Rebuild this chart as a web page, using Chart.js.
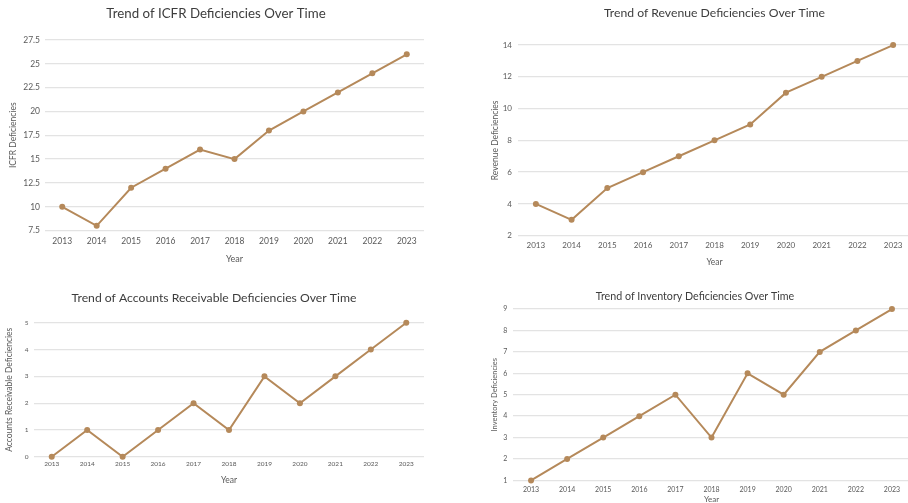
<!DOCTYPE html>
<html>
<head>
<meta charset="utf-8">
<title>Deficiency Trends 2013–2023</title>
<script src="https://cdn.jsdelivr.net/npm/chart.js@4/dist/chart.umd.min.js"></script>
<style>
  html, body { margin: 0; padding: 0; background: #ffffff; overflow: hidden; }
  body { width: 908px; height: 503px; position: relative; }
  canvas { position: absolute; display: block; }
</style>
</head>
<body>
<canvas id="icfr" width="432" height="267" style="left:0px;top:0px"></canvas>
<canvas id="revenue" width="440" height="270" style="left:485px;top:0px"></canvas>
<canvas id="receivable" width="434" height="206" style="left:0px;top:282px"></canvas>
<canvas id="inventory" width="445" height="221" style="left:480px;top:282px"></canvas>
<script>
// Years on the x axis, shared by all four panels
const years = ['2013', '2014', '2015', '2016', '2017', '2018', '2019', '2020', '2021', '2022', '2023'];

// Number of deficiencies reported each year
const icfrValues = [10, 8, 12, 14, 16, 15, 18, 20, 22, 24, 26];
const revenueValues = [4, 3, 5, 6, 7, 8, 9, 11, 12, 13, 14];
const receivableValues = [0, 1, 0, 1, 2, 1, 3, 2, 3, 4, 5];
const inventoryValues = [1, 2, 3, 4, 5, 3, 6, 5, 7, 8, 9];

// Panel titles and y-axis titles
const panelTitles = [
  'Trend of ICFR Deficiencies Over Time',
  'Trend of Revenue Deficiencies Over Time',
  'Trend of Accounts Receivable Deficiencies Over Time',
  'Trend of Inventory Deficiencies Over Time'
];
const yTitles = [
  'ICFR Deficiencies',
  'Revenue Deficiencies',
  'Accounts Receivable Deficiencies',
  'Inventory Deficiencies'
];
const xTitle = 'Year';

// y-axis ranges: [min, max, step]
const yRanges = [
  [7.5, 27.5, 2.5],
  [2, 14, 2],
  [0, 5, 1],
  [1, 9, 1]
];

const FONT = 'Lato, "Open Sans", sans-serif';
const LINE = '#b5895a';
const GRID = '#e3e3e3';
const TITLE_COLOR = '#3d3d3d';
const TEXT_COLOR = '#5a5a5a';

function drawPanel(id, values, idx, s) {
  const [ymin, ymax, ystep] = yRanges[idx];
  new Chart(document.getElementById(id), {
    type: 'line',
    data: {
      labels: years,
      datasets: [{
        data: values,
        borderColor: LINE,
        backgroundColor: LINE,
        pointBackgroundColor: LINE,
        pointBorderColor: LINE,
        borderWidth: 2,
        pointRadius: 3,
        pointBorderWidth: 0,
        tension: 0,
        fill: false,
        clip: false
      }]
    },
    options: {
      responsive: false,
      animation: false,
      devicePixelRatio: 1,
      layout: { padding: { left: s.padL, right: s.padR, top: 0, bottom: 0 } },
      plugins: {
        legend: { display: false },
        tooltip: { enabled: false },
        title: {
          display: true,
          text: panelTitles[idx],
          color: TITLE_COLOR,
          fullSize: s.fullSize,
          font: { family: FONT, size: s.titleSize, weight: 'normal' },
          padding: { top: s.titleTop, bottom: s.titleBottom }
        }
      },
      scales: {
        x: {
          offset: true,
          grid: { display: false, drawTicks: false },
          border: { display: false },
          ticks: {
            color: TEXT_COLOR,
            font: { family: FONT, size: s.tickSize },
            padding: s.xTickPad,
            maxRotation: 0,
            autoSkip: false
          },
          title: {
            display: true,
            text: xTitle,
            color: TEXT_COLOR,
            font: { family: FONT, size: s.xTitleSize },
            padding: { top: s.xTitleTop, bottom: s.xTitleBottom }
          }
        },
        y: {
          min: ymin,
          max: ymax,
          grid: { color: GRID, lineWidth: 1.3, drawTicks: false },
          border: { display: false },
          ticks: {
            stepSize: ystep,
            color: TEXT_COLOR,
            font: { family: FONT, size: s.tickSize },
            padding: s.yTickPad
          },
          title: {
            display: true,
            text: yTitles[idx],
            color: TEXT_COLOR,
            font: { family: FONT, size: s.yTitleSize },
            padding: { top: s.yTitleTop, bottom: 0 }
          },
          afterFit: (scale) => { scale.width = s.yWidth; }
        }
      }
    }
  });
}

drawPanel('icfr', icfrValues, 0, {
  padL: 8, padR: 8, fullSize: true,
  titleSize: 13.3, titleTop: 6, titleBottom: 18,
  tickSize: 8.5, xTickPad: 6, xTitleSize: 9, xTitleTop: 0.4, xTitleBottom: 3,
  yTickPad: 5, yTitleSize: 8.5, yTitleTop: 0, yWidth: 37
});

drawPanel('revenue', revenueValues, 1, {
  padL: 0, padR: 14, fullSize: false,
  titleSize: 12.2, titleTop: 5.7, titleBottom: 24.7,
  tickSize: 8, xTickPad: 5.2, xTitleSize: 8.5, xTitleTop: 1.1, xTitleBottom: 3,
  yTickPad: 6, yTitleSize: 8.5, yTitleTop: 4.9, yWidth: 33
});

drawPanel('receivable', receivableValues, 2, {
  padL: 4, padR: 10, fullSize: true,
  titleSize: 12.2, titleTop: 8.7, titleBottom: 17.4,
  tickSize: 6.5, xTickPad: 3.1, xTitleSize: 8.5, xTitleTop: 4, xTitleBottom: 3,
  yTickPad: 5.5, yTitleSize: 8.5, yTitleTop: 0.2, yWidth: 30
});

drawPanel('inventory', inventoryValues, 3, {
  padL: 0, padR: 15, fullSize: true,
  titleSize: 10.7, titleTop: 8.6, titleBottom: 5.6,
  tickSize: 7, xTickPad: 4.8, xTitleSize: 8, xTitleTop: -4, xTitleBottom: -1,
  yTickPad: 5.7, yTitleSize: 7.5, yTitleTop: 10.5, yWidth: 33
});
</script>
</body>
</html>
